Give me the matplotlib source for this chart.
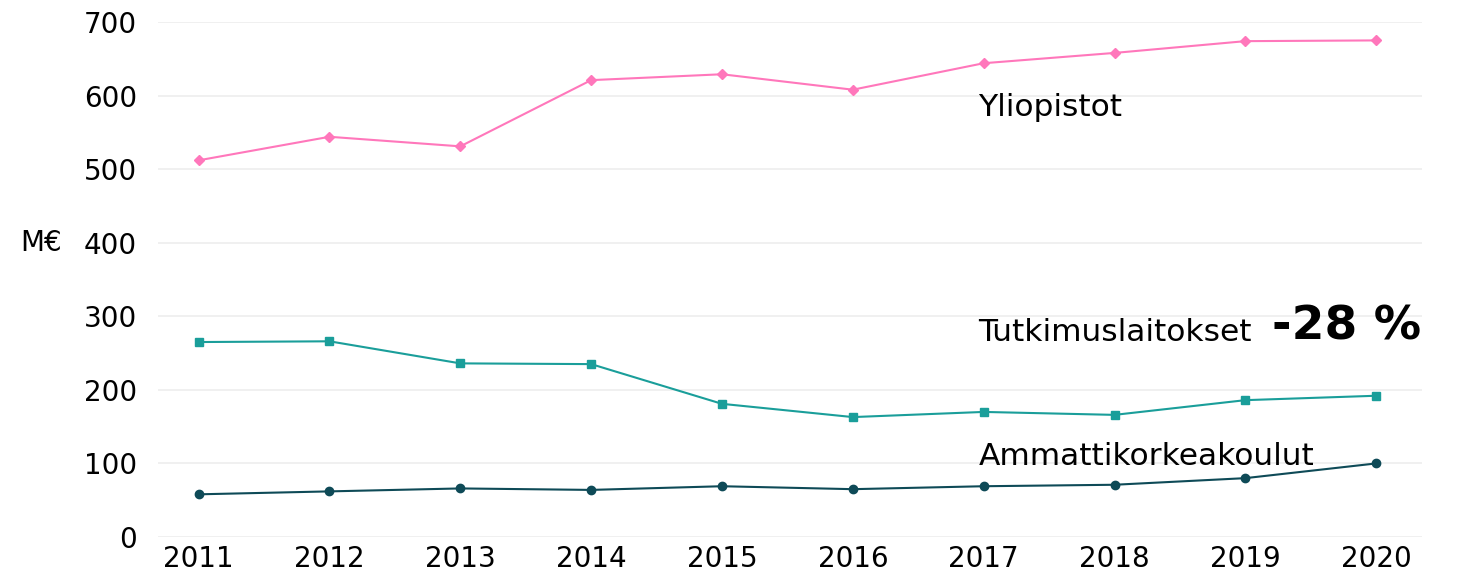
import matplotlib.pyplot as plt

years = [2011, 2012, 2013, 2014, 2015, 2016, 2017, 2018, 2019, 2020]
yliopistot = [512, 544, 531, 621, 629, 608, 644, 658, 674, 675]
tutkimuslaitokset = [265, 266, 236, 235, 181, 163, 170, 166, 186, 192]
ammattikorkeakoulut = [58, 62, 66, 64, 69, 65, 69, 71, 80, 100]
yticks = [0, 100, 200, 300, 400, 500, 600, 700]

plt.rcParams['font.family'] = ['DejaVu Sans']

fig = plt.figure(figsize=(14.58, 5.72), dpi=100)
ax = fig.add_axes([0.1084, 0.0612, 0.8669, 0.9003])

ax.plot(years, yliopistot, color='#ff77bb', marker='D', markersize=5, linewidth=1.5)
ax.plot(years, tutkimuslaitokset, color='#1a9e9a', marker='s', markersize=6, linewidth=1.5)
ax.plot(years, ammattikorkeakoulut, color='#0e4a57', marker='o', markersize=6, linewidth=1.5)

ax.set_xlim(2010.69, 2020.35)
ax.set_ylim(0, 700)
ax.set_xticks(years)
ax.set_yticks(yticks)
ax.tick_params(axis='both', length=0, labelsize=20)
ax.tick_params(axis='x', pad=6)
ax.tick_params(axis='y', pad=15)
for s in ax.spines.values():
    s.set_visible(False)
ax.grid(axis='y', color='#ededed', linewidth=1.2)
ax.set_axisbelow(True)

lab = dict(fontsize=22.5, va='baseline')
ax.text(2016.96, 572, 'Yliopistot', **lab)
ax.text(2016.96, 266, 'Tutkimuslaitokset', **lab)
ax.text(2019.2, 268, '-28 %', fontsize=34, fontweight='bold', va='baseline')
ax.text(2016.96, 98, 'Ammattikorkeakoulut', **lab)

fig.text(0.014, 0.575, 'M€', fontsize=20, va='center')

fig.savefig('out.png', dpi=100)
